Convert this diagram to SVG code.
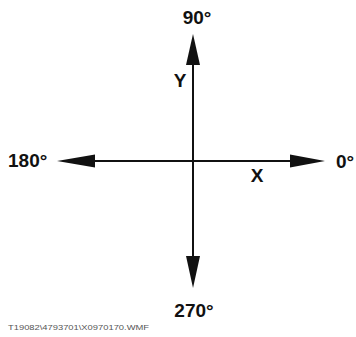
<svg xmlns="http://www.w3.org/2000/svg" width="356" height="337" viewBox="0 0 356 337">
<style>
.lbl{font-family:"Liberation Sans",Arial,sans-serif;font-weight:bold;font-size:19px;fill:#111}
.ax{stroke:#111;stroke-width:2;fill:none}
.head{fill:#111}
.foot{font-family:"Liberation Sans",Arial,sans-serif;font-size:7px;fill:#555}
</style>
<rect width="356" height="337" fill="#fff"/>
<g id="connectors">
<line class="ax" x1="193" y1="60" x2="193" y2="262"/>
<line class="ax" x1="90" y1="161" x2="295" y2="161"/>
<polygon class="head" points="193,34 186,65 200,65"/>
<polygon class="head" points="193,288 186,256 200,256"/>
<polygon class="head" points="57,161 95,154.5 95,167.5"/>
<polygon class="head" points="325,161 290,154.5 290,167.5"/>
</g>
<g id="n90"><text class="lbl" x="197" y="24" text-anchor="middle">90°</text></g>
<g id="nY"><text class="lbl" x="180" y="87" text-anchor="middle">Y</text></g>
<g id="n180"><text class="lbl" x="8" y="167">180°</text></g>
<g id="n0"><text class="lbl" x="336" y="168">0°</text></g>
<g id="nX"><text class="lbl" x="257" y="182" text-anchor="middle">X</text></g>
<g id="n270"><text class="lbl" x="194" y="317" text-anchor="middle">270°</text></g>
<g id="footer"><text class="foot" x="8" y="330" textLength="141" lengthAdjust="spacingAndGlyphs">T19082\4793701\X0970170.WMF</text></g>
</svg>
